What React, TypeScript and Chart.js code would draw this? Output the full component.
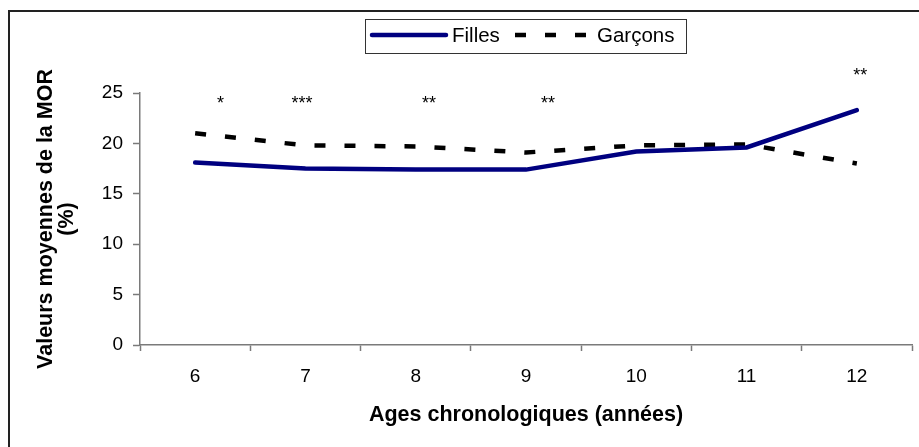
import { useEffect, useRef } from "react";
import { Chart, registerables } from "chart.js";

Chart.register(...registerables);

// Mean MOR values (%) by chronological age
const ages = ["6", "7", "8", "9", "10", "11", "12"];
const filles = [18.1, 17.5, 17.4, 17.4, 19.2, 19.6, 23.3];
const garcons = [21.0, 19.8, 19.7, 19.1, 19.8, 19.9, 18.0];

// Significance markers: label, category position, baseline value
const starLabels = ["*", "***", "**", "**", "**"];
const starPos = [0.23, 0.97, 2.12, 3.2, 6.03];
const starVal = [23.4, 23.4, 23.4, 23.4, 26.2];

const FONT = "'Liberation Sans', Arial, sans-serif";

const decorPlugin = {
  id: "decor",
  afterDraw(chart: any) {
    const ctx = chart.ctx as CanvasRenderingContext2D;
    const xs = chart.scales.x;
    const ys = chart.scales.y;
    ctx.save();

    // outer frame (top and left edges)
    ctx.strokeStyle = "#222";
    ctx.lineWidth = 2;
    ctx.beginPath();
    ctx.moveTo(9, chart.height);
    ctx.lineTo(9, 11);
    ctx.lineTo(chart.width, 11);
    ctx.stroke();

    // significance markers
    ctx.fillStyle = "#000";
    ctx.font = `18px ${FONT}`;
    ctx.textAlign = "center";
    ctx.textBaseline = "alphabetic";
    starLabels.forEach((s, i) => {
      ctx.fillText(s, xs.getPixelForValue(starPos[i]), ys.getPixelForValue(starVal[i]));
    });

    // legend
    const bx = 365, by = 19, bw = 321, bh = 34;
    ctx.fillStyle = "#fff";
    ctx.fillRect(bx, by, bw, bh);
    ctx.strokeStyle = "#333";
    ctx.lineWidth = 1;
    ctx.strokeRect(bx + 0.5, by + 0.5, bw, bh);
    const ly = by + 16;
    const ds = chart.data.datasets;
    ctx.font = `20.5px ${FONT}`;
    ctx.textAlign = "left";
    ctx.textBaseline = "middle";
    const itemX = [bx + 7, bx + 150];
    ds.forEach((d: any, i: number) => {
      const x = itemX[i];
      ctx.save();
      ctx.strokeStyle = d.borderColor;
      ctx.lineWidth = d.borderWidth;
      ctx.setLineDash(d.borderDash || []);
      ctx.lineCap = d.borderDash ? "butt" : "round";
      ctx.beginPath();
      ctx.moveTo(x, ly);
      ctx.lineTo(x + 74, ly);
      ctx.stroke();
      ctx.restore();
      ctx.fillStyle = "#000";
      ctx.fillText(d.label, x + (i === 0 ? 80 : 82), ly + 1);
    });

    ctx.restore();
  },
};

export default function App() {
  const ref = useRef<HTMLCanvasElement | null>(null);

  useEffect(() => {
    document.body.style.margin = "0";
    const canvas = ref.current;
    if (!canvas) return;
    const chart = new Chart(canvas, {
      type: "line",
      data: {
        labels: ages,
        datasets: [
          {
            label: "Filles",
            data: filles,
            borderColor: "#000080",
            backgroundColor: "#000080",
            borderWidth: 4.5,
            pointRadius: 0,
            tension: 0,
            borderCapStyle: "round",
          },
          {
            label: "Garçons",
            data: garcons,
            borderColor: "#000",
            backgroundColor: "#000",
            borderWidth: 4.5,
            borderDash: [11, 19],
            pointRadius: 0,
            tension: 0,
          },
        ],
      },
      options: {
        responsive: false,
        animation: false,
        events: [],
        layout: { padding: { top: 93, right: 7, left: 0, bottom: 0 } },
        plugins: {
          legend: { display: false },
          tooltip: { enabled: false },
          title: { display: false },
        },
        scales: {
          x: {
            type: "category",
            offset: true,
            afterFit: (s: any) => {
              s.height = 102;
            },
            grid: {
              offset: true,
              drawOnChartArea: false,
              drawTicks: true,
              tickLength: 6,
              tickColor: "#7a7a7a",
              tickWidth: 1.5,
            },
            border: { display: true, color: "#7a7a7a", width: 1.5 },
            ticks: {
              color: "#000",
              font: { family: FONT, size: 19 },
              padding: 14,
              maxRotation: 0,
              autoSkip: false,
            },
            title: {
              display: true,
              text: "Ages chronologiques (années)",
              color: "#000",
              font: { family: FONT, size: 21.5, weight: "bold" },
              padding: { top: 0, bottom: 19 },
            },
          },
          y: {
            min: 0,
            max: 25,
            afterFit: (s: any) => {
              s.width = 140;
            },
            grid: {
              drawOnChartArea: false,
              drawTicks: true,
              tickLength: 7,
              tickColor: "#7a7a7a",
              tickWidth: 1.5,
            },
            border: { display: true, color: "#7a7a7a", width: 1.5 },
            ticks: {
              stepSize: 5,
              color: "#000",
              font: { family: FONT, size: 19 },
              padding: 10,
            },
            title: {
              display: true,
              text: ["Valeurs moyennes de la MOR", "(%)"],
              color: "#000",
              font: { family: FONT, size: 21.5, weight: "bold", lineHeight: 1.0 },
              padding: { top: 35, bottom: 0 },
            },
          },
        },
      },
      plugins: [decorPlugin],
    });
    return () => chart.destroy();
  }, []);

  return (
    <div style={{ width: 919, height: 447 }}>
      <canvas ref={ref} width={919} height={447} style={{ display: "block" }} />
    </div>
  );
}
